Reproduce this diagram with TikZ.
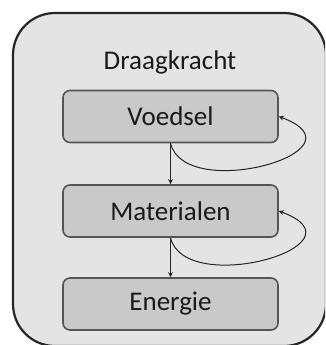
\documentclass[tikz,border=0pt]{standalone}
\usepackage{fontspec}
\setmainfont{Carlito}
\usetikzlibrary{arrows.meta}
\definecolor{outerfill}{HTML}{E4E4E4}
\definecolor{boxfill}{HTML}{C9C9C9}
\definecolor{boxdraw}{HTML}{555555}
\definecolor{txt}{HTML}{1A1A1A}
\tikzset{
  x=1pt, y=1pt,
  stagebox/.style={draw=boxdraw, line width=1.6pt, fill=boxfill, rounded corners=7pt,
    minimum width=215pt, minimum height=52pt, inner sep=0pt, text=txt, font=\fontsize{27}{30}\selectfont},
  flow/.style={draw=black!85, line width=1pt, -{Stealth[length=5pt,width=5pt]}},
}
\begin{document}
\begin{tikzpicture}
\useasboundingbox (0,0) rectangle (325,-345);
\clip (0,0) rectangle (325,-345);
\fill[white] (0,0) rectangle (325,-345);
\draw[line width=2.2pt, draw=black!85, fill=outerfill, rounded corners=42pt] (13,-13) rectangle (326,-346);
\node[font=\fontsize{27}{30}\selectfont, text=txt] (title) at (170,-62) {Draagkracht};
\node[stagebox] (v) at (170.5,-116.5) {Voedsel};
\node[stagebox] (m) at (170.5,-211) {Materialen};
\node[stagebox] (e) at (170.5,-304) {Energie};
\draw[flow] (v.south) -- (m.north);
\draw[flow] (m.south) -- (e.north);
\draw[flow] (v.south) .. controls +(15,-60) and +(92,-34) .. (v.east);
\draw[flow] (m.south) .. controls +(15,-60) and +(92,-34) .. (m.east);
\end{tikzpicture}
\end{document}
